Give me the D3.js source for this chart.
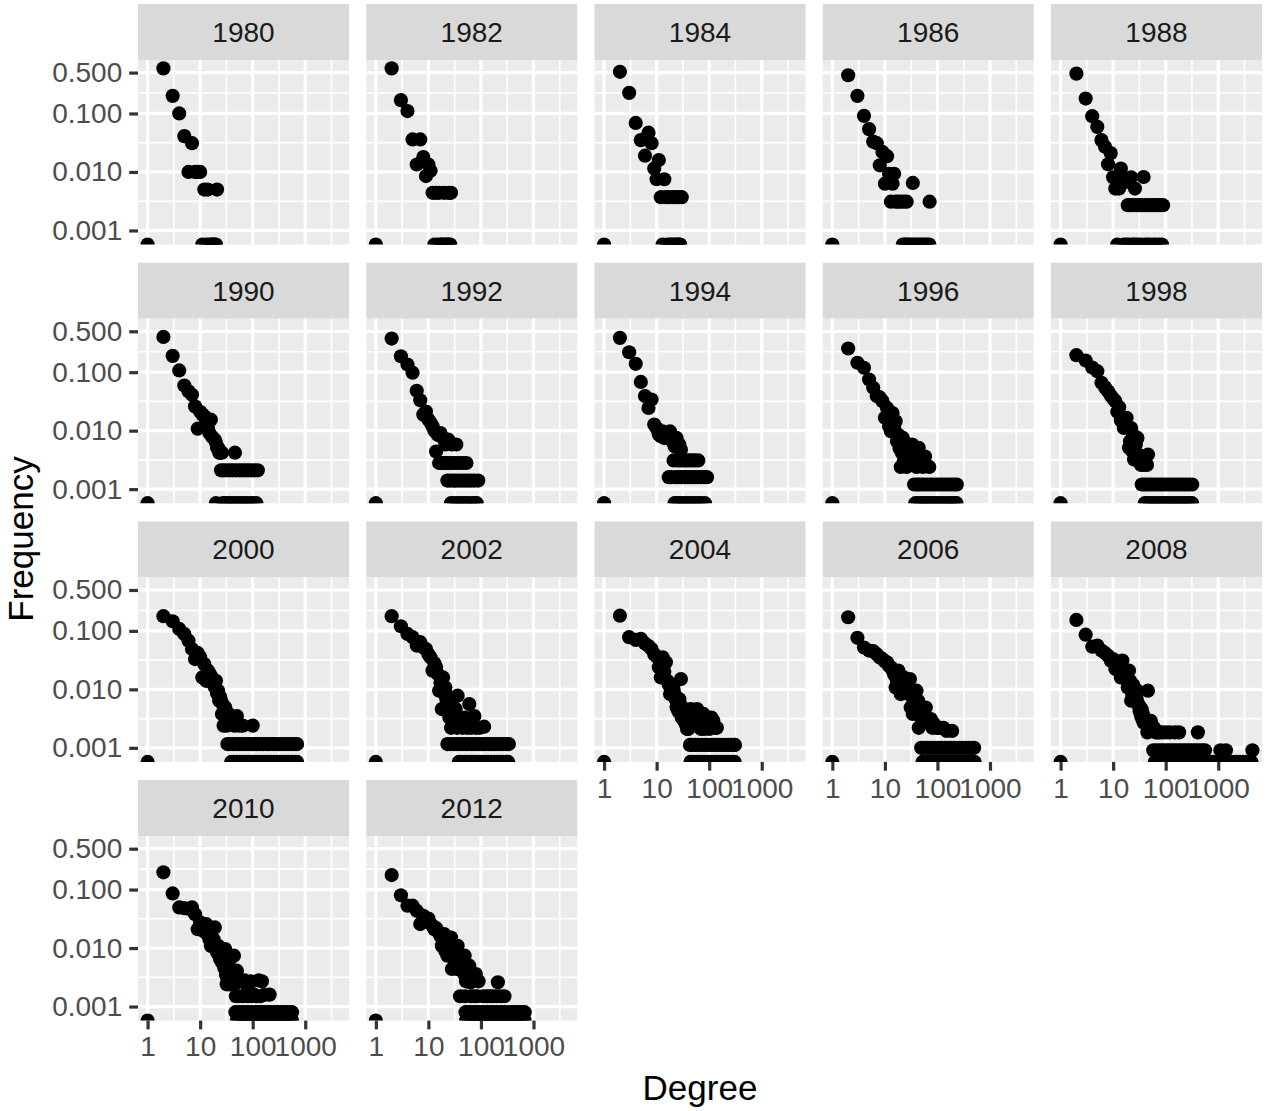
<html lang="en">

<head>
  <meta charset="UTF-8">
  <title>Degree distribution by year</title>
  <script src="https://d3js.org/d3.v7.min.js"></script>
  <style>
    body {
      margin: 0;
      background: #ffffff;
    }

    svg text {
      font-family: "Liberation Sans", Arial, Helvetica, sans-serif;
    }
  </style>
</head>

<body>
  <svg id="chart"></svg>

  <script>
    const years = [1980, 1982, 1984, 1986, 1988, 1990, 1992, 1994, 1996, 1998, 2000, 2002, 2004, 2006, 2008, 2010, 2012];

    // [degree, frequency] points along the head of each distribution
    const curve1980 = [[2, 0.59], [3, 0.2], [4, 0.1], [5, 0.041], [7, 0.031]];
    const curve1982 = [[2, 0.59], [3, 0.169], [4, 0.11], [5, 0.036], [7, 0.036], [8, 0.018], [6, 0.0134], [10, 0.0134], [9, 0.0085], [11, 0.0105]];
    const curve1984 = [[2, 0.515], [3, 0.225], [4, 0.069], [7, 0.047], [5, 0.035], [8, 0.031], [6, 0.019], [11, 0.016], [9, 0.0115], [10, 0.0075], [14, 0.0075]];
    const curve1986 = [[2, 0.45], [3, 0.2], [4, 0.091], [5, 0.054], [6, 0.033], [7, 0.031], [9, 0.022], [11, 0.0186], [8, 0.013], [15, 0.0093], [12, 0.0093], [10, 0.0063], [14, 0.0063], [34, 0.0065]];
    const curve1988 = [[2, 0.48], [3, 0.18], [4, 0.09], [5, 0.059], [6, 0.035], [7, 0.027], [9, 0.021], [8, 0.0135], [14, 0.0114], [10, 0.0081], [15, 0.0081], [22, 0.0081], [38, 0.0082], [11, 0.0052], [13, 0.0052], [26, 0.0052], [17, 0.0067]];
    const curve1990 = [[2, 0.4], [3, 0.19], [4, 0.107], [5, 0.059], [6, 0.047], [7, 0.041], [8, 0.026], [9, 0.0108], [10, 0.021], [11, 0.019], [12, 0.0176], [13, 0.014], [14, 0.011], [16, 0.0154], [15, 0.0091], [17, 0.0078], [19, 0.007], [20, 0.0062], [21, 0.0051], [22, 0.0051], [23, 0.0042], [24, 0.0042], [26, 0.0042], [46, 0.0042]];
    const curve1992 = [[2, 0.376], [3, 0.187], [4, 0.135], [5, 0.098], [6, 0.048], [7, 0.033], [8, 0.0188], [9, 0.0212], [10, 0.0155], [11, 0.0137], [12, 0.0119], [13, 0.01], [14, 0.0044], [15, 0.0085], [17, 0.0091], [19, 0.0075], [21, 0.0058], [24, 0.007], [28, 0.0058], [34, 0.0058]];
    const curve1994 = [[2, 0.386], [3, 0.219], [4, 0.139], [5, 0.068], [6, 0.039], [8, 0.034], [7, 0.0245], [9, 0.0127], [10, 0.011], [11, 0.0086], [12, 0.008], [13, 0.0097], [14, 0.0075], [16, 0.0086], [18, 0.0097], [20, 0.0065], [22, 0.0054], [24, 0.0075], [27, 0.0058], [29, 0.0047]];
    const curve1996 = [[2, 0.254], [3, 0.145], [4, 0.119], [5, 0.075], [6, 0.054], [7, 0.039], [8, 0.037], [9, 0.032], [11, 0.0245], [14, 0.02], [16, 0.0145], [10, 0.0166], [12, 0.012], [15, 0.011], [13, 0.0098], [18, 0.0085], [17, 0.0066], [19, 0.005], [21, 0.0042], [22, 0.0075], [25, 0.0058], [33, 0.0058], [44, 0.0051], [28, 0.0042], [38, 0.0042], [30, 0.0036], [58, 0.0036], [23, 0.003], [48, 0.003], [20, 0.0024], [26, 0.0024], [40, 0.0024], [53, 0.0024], [70, 0.0024]];
    const curve1998 = [[2, 0.195], [3, 0.158], [4, 0.12], [5, 0.104], [6, 0.066], [7, 0.055], [8, 0.047], [9, 0.04], [10, 0.035], [11, 0.032], [12, 0.021], [13, 0.025], [14, 0.015], [16, 0.0111], [18, 0.0166], [20, 0.0051], [21, 0.0066], [22, 0.0111], [23, 0.0045], [24, 0.0085], [25, 0.0032], [27, 0.0058], [29, 0.0075], [26, 0.0039], [30, 0.0039], [46, 0.0039], [34, 0.0026], [38, 0.0026], [44, 0.0026]];
    const curve2000 = [[2, 0.178], [3, 0.146], [4, 0.108], [5, 0.0885], [6, 0.068], [7, 0.049], [8, 0.033], [9, 0.042], [10, 0.0352], [12, 0.027], [14, 0.0209], [11, 0.016], [15, 0.019], [16, 0.017], [17, 0.015], [20, 0.014], [13, 0.014], [18, 0.012], [19, 0.011], [21, 0.0085], [22, 0.0095], [24, 0.0075], [23, 0.0064], [25, 0.0064], [27, 0.0055], [30, 0.0049], [26, 0.0038], [35, 0.0038], [50, 0.0035], [42, 0.003], [38, 0.0029], [28, 0.0024], [32, 0.0024], [45, 0.0024], [56, 0.0024], [65, 0.0024], [100, 0.0024]];
    const curve2002 = [[2, 0.178], [3, 0.12], [4, 0.0885], [5, 0.078], [7, 0.064], [6, 0.056], [9, 0.049], [8, 0.052], [10, 0.04], [11, 0.035], [13, 0.028], [14, 0.024], [12, 0.0209], [15, 0.0183], [19, 0.016], [17, 0.013], [16, 0.0095], [21, 0.0108], [20, 0.0085], [23, 0.0078], [36, 0.0078], [22, 0.0068], [24, 0.0056], [28, 0.0056], [60, 0.0056], [18, 0.0046], [26, 0.0046], [33, 0.0046], [75, 0.0035], [25, 0.0033], [30, 0.0033], [40, 0.0033], [50, 0.0033], [115, 0.0023], [27, 0.0022], [35, 0.0022], [45, 0.0022], [55, 0.0022], [65, 0.0022], [80, 0.0022], [95, 0.0022]];
    const curve2004 = [[2, 0.182], [3, 0.078], [4, 0.07], [5, 0.073], [6, 0.061], [7, 0.055], [8, 0.049], [9, 0.04], [10, 0.036], [13, 0.0352], [15, 0.029], [11, 0.0238], [14, 0.02], [12, 0.016], [16, 0.014], [29, 0.015], [17, 0.012], [19, 0.0101], [21, 0.0101], [20, 0.009], [18, 0.0083], [22, 0.0083], [23, 0.0068], [27, 0.0068], [25, 0.0056], [28, 0.0056], [24, 0.0049], [35, 0.0046], [45, 0.0046], [59, 0.0046], [26, 0.0042], [32, 0.0038], [50, 0.0038], [55, 0.0038], [78, 0.0038], [30, 0.0033], [65, 0.0033], [110, 0.0033], [33, 0.0029], [42, 0.0029], [48, 0.0029], [60, 0.0029], [90, 0.0029], [120, 0.0029], [36, 0.0025], [52, 0.0025], [75, 0.0025], [130, 0.0022], [140, 0.0022], [38, 0.0021], [40, 0.0021], [70, 0.0021], [80, 0.0021], [100, 0.0021]];
    const curve2006 = [[2, 0.171], [3, 0.076], [4, 0.052], [5, 0.046], [6, 0.045], [7, 0.04], [8, 0.0352], [9, 0.033], [10, 0.03], [11, 0.029], [12, 0.025], [13, 0.0238], [14, 0.021], [18, 0.0209], [15, 0.018], [23, 0.016], [30, 0.015], [17, 0.014], [22, 0.013], [19, 0.012], [16, 0.0108], [25, 0.0108], [40, 0.0095], [26, 0.0095], [20, 0.0083], [28, 0.0083], [33, 0.0075], [35, 0.0064], [43, 0.0064], [36, 0.0056], [31, 0.0049], [38, 0.0049], [60, 0.0049], [48, 0.0042], [34, 0.0038], [45, 0.0038], [52, 0.0038], [50, 0.0031], [55, 0.0031], [65, 0.0031], [75, 0.0031], [70, 0.0026], [85, 0.0026], [44, 0.0022], [80, 0.0022], [95, 0.0022], [105, 0.0022], [115, 0.0022], [130, 0.0022], [150, 0.00195], [190, 0.00195]];
    const curve2008 = [[2, 0.154], [3, 0.086], [4, 0.0536], [5, 0.056], [6, 0.046], [7, 0.042], [8, 0.0376], [9, 0.031], [10, 0.033], [12, 0.026], [15, 0.031], [11, 0.0224], [13, 0.022], [17, 0.02], [20, 0.0209], [16, 0.018], [14, 0.016], [18, 0.015], [21, 0.014], [24, 0.012], [19, 0.0108], [29, 0.0095], [46, 0.0095], [26, 0.0085], [23, 0.0083], [25, 0.0075], [28, 0.0068], [22, 0.0064], [27, 0.0064], [30, 0.0056], [31, 0.0052], [33, 0.0049], [35, 0.0045], [32, 0.0042], [37, 0.0038], [34, 0.0035], [36, 0.0031], [40, 0.0031], [52, 0.0029], [38, 0.0027], [42, 0.0027], [48, 0.0024], [55, 0.0024], [50, 0.0022], [60, 0.0022], [45, 0.00184], [65, 0.00184], [70, 0.00184], [75, 0.00184], [85, 0.00184], [100, 0.00184], [120, 0.00184], [150, 0.00184], [180, 0.00184], [410, 0.00184]];
    const curve2010 = [[2, 0.197], [3, 0.086], [4, 0.0495], [5, 0.048], [6, 0.047], [7, 0.0495], [8, 0.038], [10, 0.0275], [13, 0.0257], [11, 0.024], [19, 0.0225], [9, 0.021], [12, 0.019], [14, 0.017], [15, 0.0141], [18, 0.0141], [17, 0.012], [16, 0.0109], [22, 0.0109], [20, 0.0096], [30, 0.0096], [21, 0.0085], [23, 0.0074], [25, 0.0074], [44, 0.0074], [24, 0.0065], [27, 0.006], [26, 0.0057], [35, 0.0057], [28, 0.0053], [29, 0.0045], [38, 0.0041], [50, 0.0041], [31, 0.0035], [42, 0.0033], [33, 0.003], [40, 0.0028], [60, 0.0028], [70, 0.0028], [130, 0.0028], [52, 0.0027], [92, 0.0027], [150, 0.0027], [32, 0.0024], [36, 0.0024], [45, 0.0024], [75, 0.0024], [85, 0.0024], [105, 0.0016], [170, 0.0016], [210, 0.0016], [48, 0.0015], [55, 0.0015], [65, 0.0015], [80, 0.0015], [95, 0.0015], [120, 0.0015], [140, 0.0015]];
    const curve2012 = [[2, 0.177], [3, 0.08], [4, 0.053], [5, 0.053], [6, 0.0434], [8, 0.0356], [10, 0.032], [9, 0.03], [7, 0.0257], [11, 0.026], [12, 0.024], [14, 0.022], [13, 0.021], [15, 0.0197], [16, 0.018], [20, 0.0173], [17, 0.016], [27, 0.0151], [19, 0.014], [24, 0.013], [22, 0.0124], [26, 0.012], [18, 0.0109], [25, 0.0109], [36, 0.0109], [29, 0.01], [21, 0.0089], [30, 0.0089], [33, 0.0085], [23, 0.0074], [49, 0.0074], [32, 0.0062], [42, 0.0062], [44, 0.0055], [60, 0.005], [28, 0.0044], [35, 0.0044], [38, 0.0044], [45, 0.0044], [48, 0.0036], [54, 0.0036], [80, 0.0036], [52, 0.0027], [56, 0.0027], [70, 0.0027], [90, 0.0027], [63, 0.0026], [210, 0.0026], [40, 0.0015], [50, 0.0015], [65, 0.0015], [75, 0.0015], [85, 0.0015], [110, 0.0015], [130, 0.0015], [150, 0.0015], [170, 0.0015], [200, 0.0015], [240, 0.0015], [280, 0.0015]];

    // [frequency, degrees] rows of the sparse tail (one or two nodes per degree)
    const levels1980 = [[0.01, [6, 8, 9, 10]], [0.005, [12, 14, 21]]];
    const levels1982 = [[0.0044, [12, 14, 16, 20, 24, 27]]];
    const levels1984 = [[0.0037, [12, 15, 17, 20, 23, 26, 30]]];
    const levels1986 = [[0.0031, [13, 16, 18, 20, 23, 26, 71]]];
    const levels1988 = [[0.0027, [19, 21, 24, 28, 32, 36, 42, 48, 55, 62, 70, 80, 89]]];
    const levels1990 = [[0.0021, [25, 28, 32, 37, 42, 48, 55, 63, 72, 82, 95, 108, 125]]];
    const levels1992 = [[0.0028, [16, 18, 20, 22, 25, 29, 32, 36, 41, 47, 53]], [0.0014, [23, 26, 30, 33, 38, 44, 50, 57, 65, 75, 89]]];
    const levels1994 = [[0.0031, [21, 25, 28, 32, 36, 41, 47, 54, 62]], [0.0016, [17, 19, 23, 26, 30, 34, 39, 45, 52, 60, 69, 79, 91]]];
    const levels1996 = [[0.0012, [36, 41, 45, 51, 58, 66, 75, 85, 97, 110, 125, 142, 162, 184, 209, 234]]];
    const levels1998 = [[0.0012, [35, 39, 43, 49, 55, 62, 70, 80, 90, 102, 116, 131, 149, 169, 191, 217, 246, 279, 320]]];
    const levels2000 = [[0.00116, [33, 36, 41, 47, 54, 62, 71, 81, 93, 106, 121, 139, 159, 182, 208, 238, 272, 311, 356, 407, 466, 533, 610, 700]]];
    const levels2002 = [[0.00116, [23, 26, 31, 34, 39, 44, 51, 57, 66, 74, 84, 96, 109, 124, 141, 160, 182, 207, 236, 268, 305, 340]]];
    const levels2004 = [[0.00112, [43, 47, 54, 62, 71, 81, 92, 105, 121, 136, 155, 177, 201, 229, 261, 297, 310]]];
    const levels2006 = [[0.001, [49, 54, 63, 72, 82, 94, 107, 122, 139, 159, 181, 207, 236, 269, 307, 350, 400, 450, 500]]];
    const levels2008 = [[0.00091, [58, 66, 76, 86, 97, 110, 125, 142, 162, 184, 209, 238, 270, 307, 349, 397, 451, 513, 560, 1100, 1400, 4470]]];
    const levels2010 = [[0.0008, [47, 53, 61, 68, 77, 87, 99, 112, 127, 144, 163, 185, 211, 238, 270, 306, 347, 393, 446, 506, 560]]];
    const levels2012 = [[0.0008, [51, 55, 62, 71, 81, 91, 103, 117, 133, 151, 171, 193, 219, 248, 281, 319, 361, 410, 464, 526, 597, 680]]];

    // degrees with zero frequency (drawn on the lower panel edge)
    const zeros1980 = [1, 11, 13, 15, 16, 17, 18, 19, 20];
    const zeros1982 = [1, 13, 15, 17, 18, 19, 21, 22, 23, 25, 26];
    const zeros1984 = [1, 13, 16, 18, 19, 21, 22, 24, 25, 27, 28];
    const zeros1986 = [1, 22, 24, 25, 28, 30, 33, 36, 40, 44, 48, 53, 58, 64, 70];
    const zeros1988 = [1, 12, 16, 18, 20, 23, 25, 27, 30, 34, 40, 45, 50, 58, 65, 75, 85];
    const zeros1990 = [1, 20, 27, 30, 34, 39, 45, 52, 60, 68, 78, 90, 100, 117];
    const zeros1992 = [1, 27, 31, 35, 40, 46, 52, 60, 70, 80, 83];
    const zeros1994 = [1, 22, 24, 27, 31, 35, 40, 46, 53, 61, 70, 83];
    const zeros1996 = [1, 38, 43, 48, 55, 62, 70, 80, 90, 103, 117, 133, 152, 173, 197, 220, 230];
    const zeros1998 = [1, 40, 45, 51, 58, 66, 75, 85, 96, 109, 124, 140, 159, 180, 204, 232, 263, 298, 318];
    const zeros2000 = [1, 39, 44, 50, 57, 66, 75, 86, 98, 112, 128, 147, 168, 192, 220, 252, 288, 330, 377, 431, 493, 565, 646, 699];
    const zeros2002 = [1, 38, 43, 49, 56, 64, 72, 82, 94, 107, 122, 138, 157, 179, 203, 231, 263, 300, 330];
    const zeros2004 = [1, 44, 50, 57, 65, 74, 84, 96, 109, 124, 141, 161, 183, 208, 237, 270, 305];
    const zeros2006 = [1, 52, 59, 67, 77, 88, 100, 114, 130, 149, 170, 194, 221, 252, 288, 328, 374, 427, 487, 510];
    const zeros2008 = [1, 62, 70, 80, 91, 104, 118, 134, 152, 173, 197, 224, 255, 290, 330, 375, 427, 486, 553, 629, 716, 814, 926, 1053, 1198, 1363, 1550, 1763, 2006, 2282, 2596, 2953, 3359, 3821, 4300];
    const zeros2010 = [1, 50, 56, 64, 72, 82, 93, 105, 119, 135, 153, 174, 197, 223, 253, 287, 325, 368, 417, 473, 536, 559];
    const zeros2012 = [1, 52, 59, 67, 76, 86, 97, 110, 125, 141, 160, 182, 206, 233, 264, 300, 340, 385, 436, 495, 561, 636, 679];

    const xBreaks = [1, 10, 100, 1000];
    const xMinorBreaks = [3.162, 31.62, 316.2, 3162];
    const yBreaks = [0.001, 0.01, 0.1, 0.5];
    const yMinorBreaks = [0.003162, 0.03162, 0.2236];

    const curves = [curve1980, curve1982, curve1984, curve1986, curve1988, curve1990, curve1992, curve1994, curve1996, curve1998, curve2000, curve2002, curve2004, curve2006, curve2008, curve2010, curve2012];
    const levels = [levels1980, levels1982, levels1984, levels1986, levels1988, levels1990, levels1992, levels1994, levels1996, levels1998, levels2000, levels2002, levels2004, levels2006, levels2008, levels2010, levels2012];
    const zeros = [zeros1980, zeros1982, zeros1984, zeros1986, zeros1988, zeros1990, zeros1992, zeros1994, zeros1996, zeros1998, zeros2000, zeros2002, zeros2004, zeros2006, zeros2008, zeros2010, zeros2012];

    const panels = years.map((year, i) => ({
      year,
      finite: curves[i].concat(levels[i].flatMap(([f, degs]) => degs.map(d => [d, f]))),
      zeros: zeros[i]
    }));

    const width = 1267;
    const height = 1111;
    const nCol = 5;
    const panelLeft = 138;
    const colStep = 228.25;
    const panelW = 211;
    const stripTop = 4;
    const stripH = 56;
    const panelH = 184.5;
    const rowStep = 258.7;
    const pointR = 7.1;

    // ggplot-like 5% expansion in log space
    const expandLog = ([a, b]) => {
      const la = Math.log10(a), lb = Math.log10(b), pad = 0.05 * (lb - la);
      return [Math.pow(10, la - pad), Math.pow(10, lb + pad)];
    };

    const allFinite = panels.flatMap(p => p.finite);
    const allDegrees = panels.flatMap(p => p.finite.map(d => d[0]).concat(p.zeros));

    const x = d3.scaleLog()
      .domain(expandLog([d3.min(allDegrees), d3.max(allDegrees)]))
      .range([0, panelW]);
    const y = d3.scaleLog()
      .domain(expandLog(d3.extent(allFinite, d => d[1])))
      .range([panelH, 0]);

    const svg = d3.select("#chart")
      .attr("width", width)
      .attr("height", height);

    svg.append("rect").attr("width", width).attr("height", height).attr("fill", "#ffffff");

    svg.append("defs").append("clipPath")
      .attr("id", "panel-clip")
      .append("rect")
      .attr("width", panelW)
      .attr("height", panelH);

    panels.forEach((p, i) => {
      const col = i % nCol;
      const row = Math.floor(i / nCol);
      const left = panelLeft + col * colStep;
      const top = stripTop + row * rowStep;

      // strip
      const strip = svg.append("g").attr("transform", `translate(${left}, ${top})`);
      strip.append("rect")
        .attr("width", panelW)
        .attr("height", stripH)
        .attr("fill", "#D9D9D9");
      strip.append("text")
        .attr("x", panelW / 2)
        .attr("y", 38)
        .attr("text-anchor", "middle")
        .attr("font-size", 28)
        .attr("fill", "#1A1A1A")
        .text(p.year);

      const panel = svg.append("g").attr("transform", `translate(${left}, ${top + stripH})`);
      panel.append("rect")
        .attr("width", panelW)
        .attr("height", panelH)
        .attr("fill", "#EBEBEB");

      panel.selectAll("line.minor-x")
        .data(xMinorBreaks.filter(d => d > x.domain()[0] && d < x.domain()[1]))
        .enter().append("line")
        .attr("x1", d => x(d)).attr("x2", d => x(d))
        .attr("y1", 0).attr("y2", panelH)
        .attr("stroke", "#ffffff").attr("stroke-width", 1.6);
      panel.selectAll("line.minor-y")
        .data(yMinorBreaks)
        .enter().append("line")
        .attr("y1", d => y(d)).attr("y2", d => y(d))
        .attr("x1", 0).attr("x2", panelW)
        .attr("stroke", "#ffffff").attr("stroke-width", 1.6);
      panel.selectAll("line.major-x")
        .data(xBreaks)
        .enter().append("line")
        .attr("x1", d => x(d)).attr("x2", d => x(d))
        .attr("y1", 0).attr("y2", panelH)
        .attr("stroke", "#ffffff").attr("stroke-width", 3.2);
      panel.selectAll("line.major-y")
        .data(yBreaks)
        .enter().append("line")
        .attr("y1", d => y(d)).attr("y2", d => y(d))
        .attr("x1", 0).attr("x2", panelW)
        .attr("stroke", "#ffffff").attr("stroke-width", 3.2);

      const dots = panel.append("g").attr("clip-path", "url(#panel-clip)");
      dots.selectAll("circle.zero")
        .data(p.zeros)
        .enter().append("circle")
        .attr("cx", d => x(d))
        .attr("cy", panelH)
        .attr("r", pointR)
        .attr("fill", "#000000");
      dots.selectAll("circle.freq")
        .data(p.finite)
        .enter().append("circle")
        .attr("cx", d => x(d[0]))
        .attr("cy", d => y(d[1]))
        .attr("r", pointR)
        .attr("fill", "#000000");

      // y axis on the first column
      if (col === 0) {
        panel.append("g")
          .call(d3.axisLeft(y).tickValues(yBreaks).tickFormat(d3.format(".3f"))
            .tickSizeInner(8.75).tickSizeOuter(0).tickPadding(7))
          .call(g => g.select(".domain").remove())
          .call(g => g.selectAll(".tick line").attr("stroke", "#333333").attr("stroke-width", 3.2))
          .call(g => g.selectAll(".tick text").attr("fill", "#4D4D4D"))
          .attr("font-size", 28)
          .attr("font-family", null);
      }

      // x axis where no panel sits below
      if (i + nCol >= panels.length) {
        panel.append("g")
          .attr("transform", `translate(0, ${panelH})`)
          .call(d3.axisBottom(x).tickValues(xBreaks).tickFormat(d3.format("d"))
            .tickSizeInner(8.75).tickSizeOuter(0).tickPadding(7))
          .call(g => g.select(".domain").remove())
          .call(g => g.selectAll(".tick line").attr("stroke", "#333333").attr("stroke-width", 3.2))
          .call(g => g.selectAll(".tick text").attr("fill", "#4D4D4D"))
          .attr("font-size", 28)
          .attr("font-family", null);
      }
    });

    svg.append("text")
      .attr("x", panelLeft + (4 * colStep + panelW) / 2)
      .attr("y", 1100)
      .attr("text-anchor", "middle")
      .attr("font-size", 35)
      .attr("fill", "#000000")
      .text("Degree");

    svg.append("text")
      .attr("transform", `translate(33, 539) rotate(-90)`)
      .attr("text-anchor", "middle")
      .attr("font-size", 35)
      .attr("fill", "#000000")
      .text("Frequency");
  </script>
</body>

</html>
